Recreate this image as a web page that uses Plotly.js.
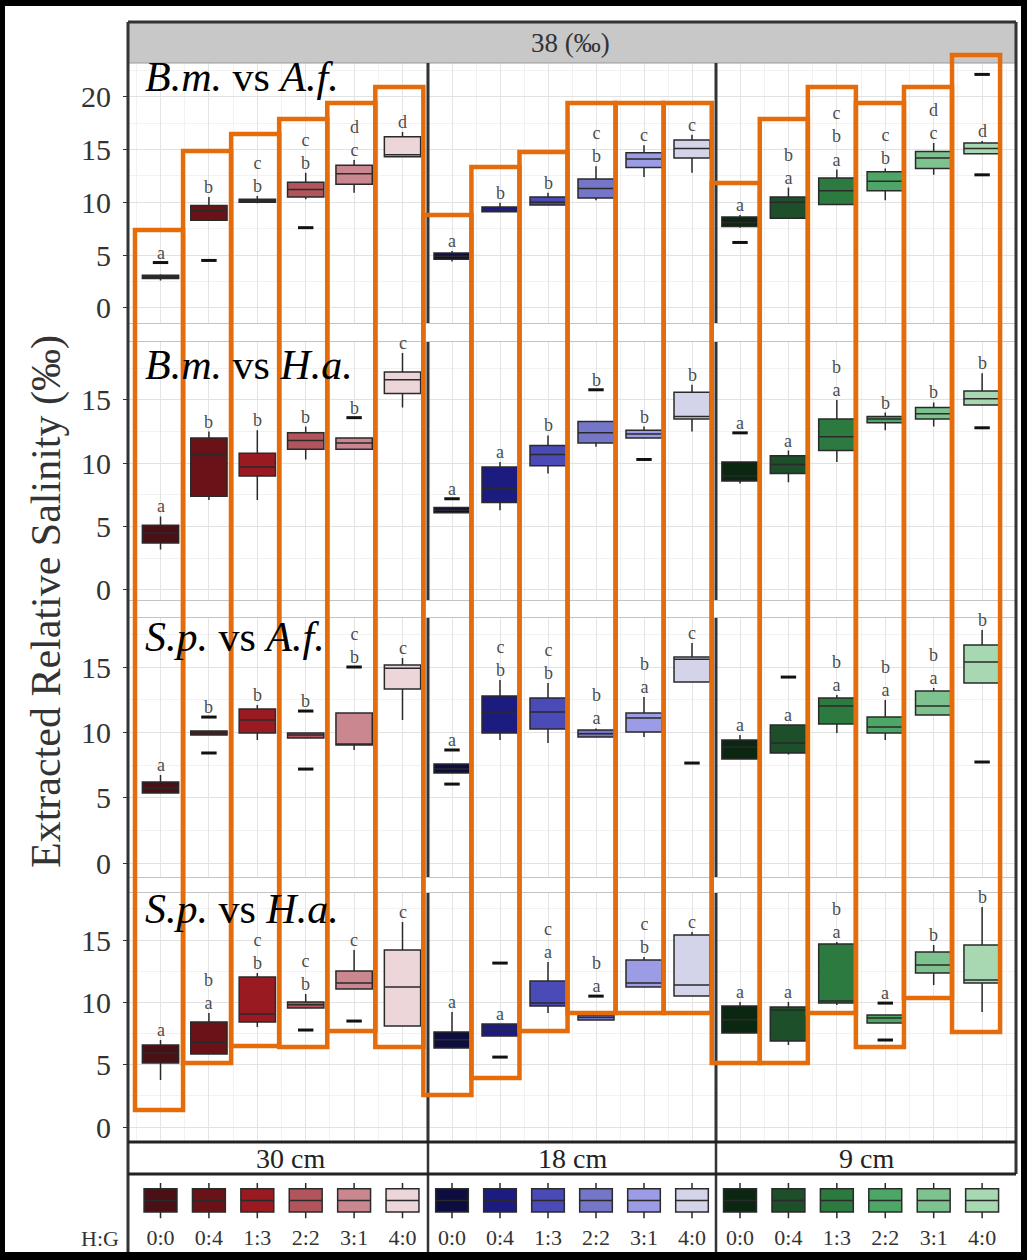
<!DOCTYPE html>
<html><head><meta charset="utf-8">
<script src="https://cdn.plot.ly/plotly-3.0.1.min.js"></script>
<style>html,body{margin:0;padding:0;background:#fff}</style>
</head><body><div id="chart" style="width:1027px;height:1260px"></div>
<script>
// ---------- categories & labels ----------
const groups = ['0:0','0:4','1:3','2:2','3:1','4:0'];
const depths = ['30 cm','18 cm','9 cm'];
const pairs = ['<i>B.m.</i> vs <i>A.f.</i>','<i>B.m.</i> vs <i>H.a.</i>','<i>S.p.</i> vs <i>A.f.</i>','<i>S.p.</i> vs <i>H.a.</i>'];
const salinityLabel = '38 (‰)';
const yTitle = 'Extracted Relative Salinity (‰)';
const legendTitle = 'H:G';

// ---------- colours per depth ----------
const reds   = ['#4a1015','#6a1217','#9a1a22','#b2545c','#cb8790','#ecd6d9'];
const blues  = ['#0d0d40','#1c1c80','#4b4bb8','#7676c8','#9b9be6','#d3d3ea'];
const greens = ['#0b2712','#1c4f2a','#2c7a40','#4da665','#7dc28f','#a8d8b2'];

// ---------- data: 18 values each = 30 cm (6), 18 cm (6), 9 cm (6) ----------
// B.m. vs A.f.
const bmAf_lo  = [2.6, 8.3, 9.9, 10.3, 10.9, 14.3,   4.4, 9.1, 9.75, 10.2, 12.4, 12.8,   7.6, 8.5, 9.8, 10.2, 12.6, 14.6];
const bmAf_q1  = [2.8, 8.3, 10.0, 10.5, 11.7, 14.3,  4.6, 9.1, 9.75, 10.4, 13.3, 14.2,   7.7, 8.5, 9.8, 11.1, 13.2, 14.6];
const bmAf_med = [2.95, 9.2, 10.15, 11.2, 12.7, 14.5, 4.9, 9.3, 10.0, 11.3, 14.1, 15.1,  8.1, 10.0, 11.1, 12.0, 14.2, 15.1];
const bmAf_q3  = [3.1, 9.7, 10.3, 11.9, 13.5, 16.2,  5.2, 9.55, 10.5, 12.2, 14.7, 15.9,  8.6, 10.5, 12.3, 12.9, 14.8, 15.6];
const bmAf_hi  = [3.2, 10.5, 10.6, 12.8, 14.0, 16.65, 5.4, 9.95, 10.9, 13.4, 15.4, 16.4, 8.8, 11.4, 13.1, 13.2, 15.6, 15.8];
const bmAf_out = [[4.3],[4.5],[],[7.6],[],[], [],[],[],[],[],[], [6.2],[],[],[],[],[22.1,12.6]];
const bmAf_let = ['a','b','c/b','c/b','d/c','d', 'a','b','b','c/b','c','c', 'a','b/a','c/b/a','c/b','d/c','d'];
// B.m. vs H.a.
const bmHa_lo  = [3.2, 7.1, 7.1, 10.3, 11.1, 14.4,   6.1, 6.3, 9.2, 11.3, 12.0, 12.5,   8.4, 8.5, 10.1, 12.6, 12.9, 14.6];
const bmHa_q1  = [3.7, 7.4, 9.0, 11.1, 11.1, 15.5,   6.1, 6.9, 9.8, 11.6, 12.0, 13.5,   8.6, 9.2, 11.0, 13.2, 13.5, 14.6];
const bmHa_med = [4.5, 10.7, 9.7, 11.8, 11.6, 16.6,  6.3, 8.0, 10.7, 12.4, 12.3, 13.7,  9.0, 9.9, 12.1, 13.5, 13.9, 15.1];
const bmHa_q3  = [5.1, 12.0, 10.8, 12.4, 12.0, 17.2, 6.5, 9.7, 11.4, 13.3, 12.6, 15.6,  10.1, 10.6, 13.5, 13.7, 14.4, 15.7];
const bmHa_hi  = [5.8, 12.5, 12.6, 12.9, 12.0, 18.7, 6.5, 10.1, 12.2, 13.3, 12.9, 16.2, 10.1, 11.0, 15.0, 14.0, 14.8, 17.1];
const bmHa_out = [[],[],[],[],[13.6],[], [7.2],[],[],[15.8],[10.3],[], [12.4],[],[],[],[],[12.8]];
const bmHa_let = ['a','b','b','b','b','c', 'a','a','b','b','b','b', 'a','a','b/a','b','b','b'];
// S.p. vs A.f.
const spAf_lo  = [5.36, 9.8, 9.41, 9.56, 8.65, 10.94,  6.89, 9.41, 9.18, 9.6, 9.64, 13.85,  7.96, 8.3, 9.95, 9.41, 11.3, 13.77];
const spAf_q1  = [5.36, 9.8, 9.95, 9.56, 9.03, 13.31,  6.89, 9.95, 10.25, 9.64, 10.02, 13.85, 7.96, 8.42, 10.63, 9.95, 11.32, 13.77];
const spAf_med = [5.74, 9.95, 10.94, 9.8, 9.1, 14.9,   7.2, 11.48, 11.55, 9.9, 11.1, 15.6,   8.88, 9.18, 12.01, 10.41, 12.01, 15.38];
const spAf_q3  = [6.2, 10.1, 11.78, 9.95, 11.48, 15.15, 7.57, 12.78, 12.62, 10.18, 11.48, 15.76, 9.41, 10.56, 12.62, 11.17, 13.16, 16.68];
const spAf_hi  = [6.73, 10.1, 12.09, 9.95, 11.48, 15.68, 7.57, 14.0, 13.77, 10.3, 12.7, 16.83, 9.79, 10.56, 12.85, 12.47, 13.4, 17.83];
const spAf_out = [[],[11.17,8.42],[],[11.63,7.19],[15.0],[], [8.65,6.04],[],[],[],[],[7.65], [],[14.23],[],[],[],[7.73]];
const spAf_let = ['a','b','b','b','c/b','c', 'a','c/b','c/b','b/a','b/a','c', 'a','a','b/a','b/a','b/a','b'];
// S.p. vs H.a.
const spHa_lo  = [3.77, 5.85, 8.02, 9.54, 11.07, 8.1,   6.34, 7.3, 9.14, 8.58, 11.23, 10.5,  7.54, 6.58, 9.78, 8.34, 11.39, 9.22];
const spHa_q1  = [5.13, 5.85, 8.42, 9.54, 11.07, 8.1,   6.34, 7.3, 9.7, 8.58, 11.23, 10.5,   7.54, 6.9, 9.94, 8.34, 12.35, 11.55];
const spHa_med = [5.93, 6.8, 9.06, 9.8, 11.55, 11.23,   7.0, 7.8, 9.94, 8.8, 11.55, 11.39,   8.6, 9.38, 10.1, 8.74, 12.99, 11.79];
const spHa_q3  = [6.58, 8.42, 12.03, 10.02, 12.51, 14.19, 7.62, 8.26, 11.71, 8.98, 13.39, 15.4, 9.7, 9.62, 14.68, 8.98, 14.03, 14.6];
const spHa_hi  = [6.98, 9.14, 12.35, 10.67, 14.19, 16.44, 9.22, 8.26, 13.23, 8.98, 13.63, 15.64, 10.02, 10.02, 14.84, 8.98, 14.6, 17.64];
const spHa_out = [[],[],[],[7.78],[8.5],[], [],[13.15,5.61],[],[10.5],[],[], [],[],[],[9.94,6.98],[],[]];
const spHa_let = ['a','b/a','c/b','c/b','c','c', 'a','a','c/a','b/a','c/b','c', 'a','a','b/a','a','b','b'];

// ---------- assembly ----------
const rows = [
  {lo:bmAf_lo, q1:bmAf_q1, med:bmAf_med, q3:bmAf_q3, hi:bmAf_hi, out:bmAf_out, let:bmAf_let},
  {lo:bmHa_lo, q1:bmHa_q1, med:bmHa_med, q3:bmHa_q3, hi:bmHa_hi, out:bmHa_out, let:bmHa_let},
  {lo:spAf_lo, q1:spAf_q1, med:spAf_med, q3:spAf_q3, hi:spAf_hi, out:spAf_out, let:spAf_let},
  {lo:spHa_lo, q1:spHa_q1, med:spHa_med, q3:spHa_q3, hi:spHa_hi, out:spHa_out, let:spHa_let}
];
const palettes = [reds, blues, greens];

const W = 1027, H = 1260;
const fx = p => p / W;
const fy = p => 1 - p / H;
const FONT = '"Liberation Serif", "Times New Roman", Times, serif';

// layout geometry (pixels)
const colPx = [[128,428],[428,716],[716,1016]];
const colRange = [[0.328,6.527],[0.5,6.5],[0.504,6.70]];
const rowPx = [[63,323],[342,600],[618,877],[893,1142]];
const rowRange = [[-1.42,23.18],[-0.79,19.57],[-1.07,18.75],[-1.20,18.77]];
const legendPx = [1180,1222];
const LETTER_GAP = 3.6;

const traces = [];
const annotations = [];
const layout = {
  width: W, height: H,
  margin: {l:0, r:0, t:0, b:0},
  paper_bgcolor: '#ffffff', plot_bgcolor: '#ffffff',
  showlegend: false,
  font: {family: FONT, color: '#333'},
  shapes: [], annotations: annotations
};
const ax = (k) => k > 1 ? String(k) : '';

rows.forEach((R, r) => {
  for (let c = 0; c < 3; c++) {
    const k = r * 3 + c + 1;
    const xa = 'x' + ax(k), ya = 'y' + ax(k);
    const ox = [], oy = [];
    for (let g = 0; g < 6; g++) {
      const i = c * 6 + g;
      traces.push({
        type: 'box', xaxis: xa, yaxis: ya, x: [g + 1],
        q1: [R.q1[i]], median: [R.med[i]], q3: [R.q3[i]],
        lowerfence: [R.lo[i]], upperfence: [R.hi[i]],
        width: 0.75, whiskerwidth: 0, boxpoints: false,
        fillcolor: palettes[c][g], line: {color: '#2a2a2a', width: 1.5},
        hoverinfo: 'skip', showlegend: false
      });
      let base = R.hi[i];
      R.out[i].forEach(v => {
        ox.push(g + 1); oy.push(v);
        if (v > base && v - R.hi[i] < LETTER_GAP) base = Math.max(base, v);
      });
      annotations.push({
        xref: xa, yref: ya, x: g + 1, y: base, text: R.let[i].split('/').join('<br>'),
        showarrow: false, yanchor: 'bottom', xanchor: 'center', yshift: -2,
        font: {family: FONT, size: 18, color: '#4d4d4d'}
      });
    }
    traces.push({
      type: 'scatter', mode: 'markers', xaxis: xa, yaxis: ya, x: ox, y: oy,
      marker: {symbol: 'line-ew', size: 11, color: '#111', line: {color: '#111', width: 3}},
      hoverinfo: 'skip', showlegend: false
    });
    layout['xaxis' + ax(k)] = {
      domain: [fx(colPx[c][0]), fx(colPx[c][1])], range: colRange[c], anchor: ya,
      tick0: 1, dtick: 1, showticklabels: false, ticks: '',
      showgrid: true, gridcolor: '#e4e4e4', gridwidth: 1, zeroline: false,
      minor: {dtick: 0.5, showgrid: true, gridcolor: '#f2f2f2'},
      showline: true, mirror: true, linecolor: '#c4c4c4', linewidth: 1, fixedrange: true
    };
    layout['yaxis' + ax(k)] = {
      domain: [fy(rowPx[r][1]), fy(rowPx[r][0])], range: rowRange[r], anchor: xa,
      tick0: 0, dtick: 5, showgrid: true, gridcolor: '#e2e2e2', zeroline: false,
      minor: {dtick: 2.5, showgrid: true, gridcolor: '#f2f2f2'},
      showticklabels: c === 0, ticks: c === 0 ? 'outside' : '', ticklen: 4, tickcolor: '#333',
      ticklabelstandoff: 6,
      tickfont: {family: FONT, size: 30, color: '#333'}, showline: false, fixedrange: true
    };
  }
  annotations.push({
    xref: 'paper', yref: 'paper', x: fx(143), y: fy([77, 365, 637, 909][r]),
    xanchor: 'left', yanchor: 'middle', text: pairs[r], showarrow: false,
    font: {family: FONT, size: 42, color: '#000'}
  });
});

// legend row (H:G key)
for (let c = 0; c < 3; c++) {
  const k = 13 + c;
  const xa = 'x' + k, ya = 'y' + k;
  for (let g = 0; g < 6; g++) {
    traces.push({
      type: 'box', xaxis: xa, yaxis: ya, x: [g + 1],
      q1: [0.24], median: [0.51], q3: [0.79], lowerfence: [0.09], upperfence: [0.93],
      width: 0.68, whiskerwidth: 0, boxpoints: false,
      fillcolor: palettes[c][g], line: {color: '#2a2a2a', width: 1.5},
      hoverinfo: 'skip', showlegend: false
    });
  }
  layout['xaxis' + k] = {
    domain: [fx(colPx[c][0]), fx(colPx[c][1])], range: colRange[c], anchor: ya,
    tickvals: [1,2,3,4,5,6], ticktext: groups, ticks: '', showgrid: false, zeroline: false,
    showline: false, tickfont: {family: FONT, size: 22, color: '#333'}, fixedrange: true
  };
  layout['yaxis' + k] = {
    domain: [fy(legendPx[1]), fy(legendPx[0])], range: [0, 1], anchor: xa,
    visible: false, fixedrange: true
  };
  annotations.push({
    xref: 'paper', yref: 'paper', x: fx([290, 572, 866][c]), y: fy(1158),
    xanchor: 'center', yanchor: 'middle', text: depths[c], showarrow: false,
    font: {family: FONT, size: 28, color: '#222'}
  });
}

annotations.push({xref:'paper', yref:'paper', x: fx(570), y: fy(43), text: salinityLabel,
  showarrow:false, xanchor:'center', yanchor:'middle', font:{family:FONT, size:27, color:'#333'}});
annotations.push({xref:'paper', yref:'paper', x: fx(46), y: fy(602), text: yTitle, textangle: -90,
  showarrow:false, xanchor:'center', yanchor:'middle', font:{family:FONT, size:42, color:'#333'}});
annotations.push({xref:'paper', yref:'paper', x: fx(100), y: fy(1238), text: legendTitle,
  showarrow:false, xanchor:'center', yanchor:'middle', font:{family:FONT, size:22, color:'#333'}});

// ---------- frame / strips ----------
const S = layout.shapes;
const line = (x0, y0, x1, y1, color, width) => S.push({type:'line', xref:'paper', yref:'paper',
  x0: fx(x0), y0: fy(y0), x1: fx(x1), y1: fy(y1), line:{color, width}});
const rect = (x0, y0, x1, y1, fill, lc, lw) => S.push({type:'rect', xref:'paper', yref:'paper',
  x0: fx(x0), y0: fy(y0), x1: fx(x1), y1: fy(y1), fillcolor: fill, line:{color: lc || 'rgba(0,0,0,0)', width: lw || 0}});

rect(128, 22, 1016, 63, '#c8c8c8');
line(128, 63, 1016, 63, '#9a9a9a', 1);
line(128, 22, 1016, 22, '#333', 3);
line(128, 22, 128, 1252, '#333', 3);
line(1016, 22, 1016, 1174, '#333', 3);
rowPx.forEach(([t, b]) => { line(428, t, 428, b, '#333', 3); line(716, t, 716, b, '#333', 3); });
line(428, 1142, 428, 1252, '#333', 2.5);
line(716, 1142, 716, 1252, '#333', 2.5);
line(128, 1142, 1016, 1142, '#222', 3);
line(128, 1174, 1016, 1174, '#222', 3);

// orange highlight rectangles (one per H:G × depth column)
const hlTop    = [230,151,134,119,103,87, 215,167,152,103,103,103, 183,119,87,103,87,55];
const hlBottom = [1110,1063,1046,1047,1031,1047, 1095,1078,1031,1013,1013,1013, 1063,1063,1013,1047,998,1032];
const hlLeft = 135, hlStep = 48.06;
hlTop.forEach((t, i) => S.push({type:'rect', xref:'paper', yref:'paper',
  x0: fx(hlLeft + i * hlStep), x1: fx(hlLeft + (i + 1) * hlStep), y0: fy(hlBottom[i]), y1: fy(t),
  line: {color: '#e46c0a', width: 4.5}, fillcolor: 'rgba(0,0,0,0)'}));

// black frame
rect(0, 0, 1027, 6, '#000');
rect(0, 0, 5, 1260, '#000');
rect(1021, 0, 1027, 1260, '#000');
rect(0, 1252, 1027, 1260, '#000');

Plotly.newPlot('chart', traces, layout, {displayModeBar: false, staticPlot: true});
</script>
</body></html>
